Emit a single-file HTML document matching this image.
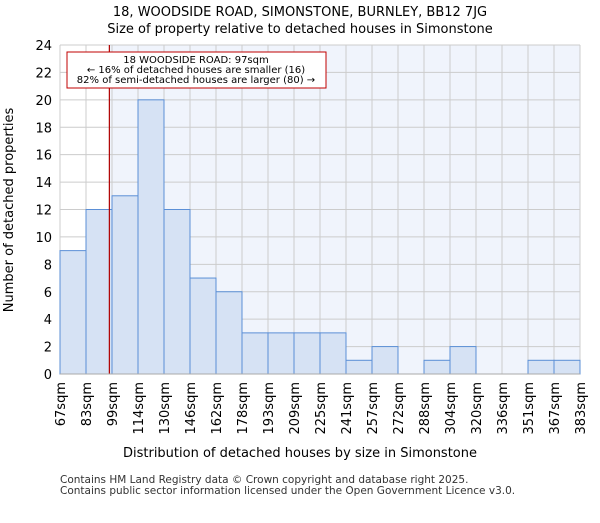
<!DOCTYPE html>
<html><head><meta charset="utf-8"><style>body{margin:0;background:#fff}svg text{font-family:"DejaVu Sans","Liberation Sans",sans-serif}</style></head>
<body>
<svg id="c" width="600" height="500" viewBox="0 0 600 500"></svg>
<script>
const binLabels=["67sqm","83sqm","99sqm","114sqm","130sqm","146sqm","162sqm","178sqm","193sqm","209sqm","225sqm","241sqm","257sqm","272sqm","288sqm","304sqm","320sqm","336sqm","351sqm","367sqm","383sqm"];
const counts=[9,12,13,20,12,7,6,3,3,3,3,1,2,0,1,2,0,0,1,1];
const yTicks=[0,2,4,6,8,10,12,14,16,18,20,22,24];
const markerValue=97;
const binEdges=[67,82.8,98.6,114.4,130.2,146,161.8,177.6,193.4,209.2,225,240.8,256.6,272.4,288.2,304,319.8,335.6,351.4,367.2,383];
const svg=document.getElementById('c');const NS='http://www.w3.org/2000/svg';
const L=60,R=580,T=45,B=374,yMax=24;
const x=i=>L+(R-L)*i/counts.length;
const y=v=>B-(B-T)*v/yMax;
function xv(v){for(let i=0;i<binEdges.length-1;i++){if(v<=binEdges[i+1])return x(i)+(v-binEdges[i])/(binEdges[i+1]-binEdges[i])*(x(i+1)-x(i));}return R;}
function el(t,a,p){const e=document.createElementNS(NS,t);for(const k in a)e.setAttribute(k,a[k]);(p||svg).appendChild(e);return e;}
const mx=xv(markerValue);
let r=el('rect',{x:mx,y:T,width:R-mx,height:B-T,fill:'#f0f4fc'});


yTicks.forEach(t=>{const g=el('line',{x1:L,x2:R,y1:y(t),y2:y(t),stroke:'#cccccc','stroke-width':1});


const tx=el('text',{x:L-8,y:y(t)+5,'text-anchor':'end','font-size':13,fill:'#000'});tx.textContent=t;

});
for(let i=0;i<=counts.length;i++){const g=el('line',{x1:x(i),x2:x(i),y1:T,y2:B,stroke:'#cccccc','stroke-width':1});

}
counts.forEach((c,i)=>{if(c<=0)return;const b=el('rect',{x:x(i),y:y(c),width:x(i+1)-x(i),height:B-y(c),fill:'#d6e2f4',stroke:'#5b8fd6','stroke-width':1});

});
binLabels.forEach((l,i)=>{const tx=el('text',{transform:`translate(${x(i)+5},382) rotate(-90)`,'text-anchor':'end','font-size':13,fill:'#000'});tx.textContent=l;

});
const ml=el('line',{x1:mx,x2:mx,y1:T,y2:B,stroke:'#b00000','stroke-width':1.2});


</script>
<svg width="0" height="0"></svg>
<div style="position:absolute;left:0;top:0;width:600px;height:500px;pointer-events:none">
<svg width="600" height="500" style="position:absolute;left:0;top:0">
<line x1="60" y1="374" x2="580" y2="374" stroke="#aaa"/>
<text x="300" y="16" text-anchor="middle" font-size="13">18, WOODSIDE ROAD, SIMONSTONE, BURNLEY, BB12 7JG</text>
<text x="300" y="33" text-anchor="middle" font-size="13">Size of property relative to detached houses in Simonstone</text>
<rect x="67" y="52" width="259" height="36" fill="#fff" stroke="#c00000"/>
<text x="196" y="63" text-anchor="middle" font-size="10">18 WOODSIDE ROAD: 97sqm</text>
<text x="196" y="73" text-anchor="middle" font-size="10">← 16% of detached houses are smaller (16)</text>
<text x="196" y="83" text-anchor="middle" font-size="10">82% of semi-detached houses are larger (80) →</text>
<text x="300" y="457" text-anchor="middle" font-size="13">Distribution of detached houses by size in Simonstone</text>
<text transform="translate(13,210) rotate(-90)" text-anchor="middle" font-size="13">Number of detached properties</text>
<text x="60" y="483" font-size="10.5" fill="#333">Contains HM Land Registry data © Crown copyright and database right 2025.</text>
<text x="60" y="494" font-size="10.5" fill="#333">Contains public sector information licensed under the Open Government Licence v3.0.</text>
</svg></div>
</body></html>
